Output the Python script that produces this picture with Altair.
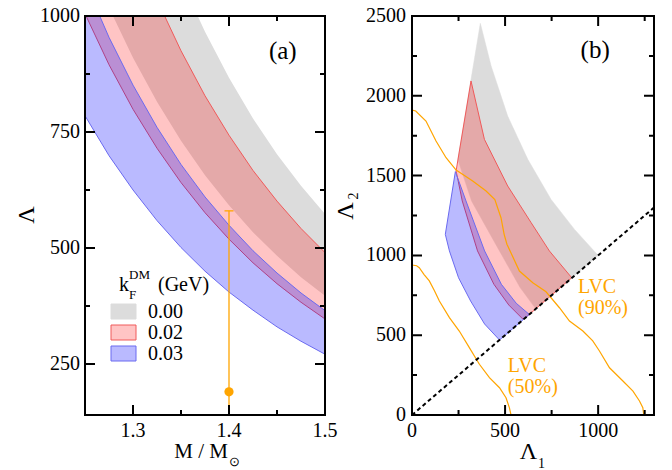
import altair as alt
import pandas as pd

FONT = "Liberation Serif"

# ---------------- panel (a): Lambda vs M/Msun ----------------
mass = [1.25, 1.275, 1.30, 1.325, 1.35, 1.375, 1.40, 1.425, 1.45, 1.475, 1.50]
gray_low = [1142, 1018, 910, 815, 731, 657, 592, 534, 483, 437, 397]
gray_high = [1711, 1519, 1352, 1206, 1078, 966, 867, 779, 702, 634, 573]
pink_low = [1005, 895, 799, 715, 641, 576, 519, 468, 423, 383, 347]
pink_high = [1471, 1305, 1161, 1035, 925, 828, 743, 667, 601, 542, 490]
blue_low = [785, 699, 625, 559, 501, 450, 405, 366, 330, 299, 271]
blue_high = [1073, 954, 851, 760, 680, 610, 549, 494, 446, 403, 365]

gw_mass = [1.4]
gw_lambda = [190]
gw_low = [70]
gw_high = [580]

kf_values = ["0.00", "0.02", "0.03"]
panel_a_label = ["(a)"]
panel_a_x = [1.456]
panel_a_y = [908]

a_x_dom = [1.25, 1.5]
a_y_dom = [140, 1000]
a_x_major = [1.3, 1.4, 1.5]
a_x_labels = ["1.3", "1.4", "1.5"]
a_x_minor = [1.35, 1.45]
a_y_major = [250, 500, 750, 1000]
a_y_labels = ["250", "500", "750", "1000"]
a_y_minor = [375, 625, 875]

# ---------------- panel (b): Lambda2 vs Lambda1 ----------------
gray_out_l1 = [367, 425, 514, 622, 747, 873, 1000]
gray_out_l2 = [2454, 2187, 1873, 1602, 1351, 1163, 1000]
gray_in_l1 = [246, 320, 470, 580, 665]
gray_in_l2 = [1602, 1341, 1028, 800, 665]

pink_out_l1 = [317, 389, 514, 640, 738, 858]
pink_out_l2 = [2093, 1727, 1435, 1205, 1028, 860]
pink_in_l1 = [237, 270, 352, 440, 520, 598]
pink_in_l2 = [1530, 1341, 1028, 819, 689, 598]

blue_out_l1 = [233, 290, 390, 480, 560, 630]
blue_out_l2 = [1525, 1341, 1028, 819, 700, 630]
blue_in_l1 = [179, 201, 250, 315, 390, 470]
blue_in_l2 = [1132, 1028, 860, 714, 570, 470]

lvc90_l1 = [0, 20, 75, 129, 183, 237, 326, 398, 445, 478, 495, 510, 532, 577, 649,
            720, 792, 846, 918, 971, 1007, 1061, 1133, 1187, 1222, 1240, 1245]
lvc90_l2 = [1910, 1905, 1842, 1717, 1612, 1535, 1466, 1403, 1350, 1236, 1132, 1070, 1015, 902, 829,
            772, 672, 589, 526, 464, 401, 296, 213, 150, 88, 46, 0]
lvc50_l1 = [0, 25, 39, 65, 93, 120, 147, 201, 254, 308, 362, 416, 470, 505, 523, 532]
lvc50_l2 = [940, 935, 923, 880, 840, 780, 714, 610, 526, 422, 318, 234, 171, 108, 46, 0]

diag_l = [0, 1300]

lvc_text = ["LVC", "(90%)", "LVC", "(50%)"]
lvc_text_l1 = [892, 892, 515, 515]
lvc_text_l2 = [764, 633, 269, 138]

panel_b_label = ["(b)"]
panel_b_x = [984]
panel_b_y = [2234]

b_x_dom = [0, 1300]
b_y_dom = [0, 2500]
b_x_major = [0, 500, 1000]
b_x_labels = ["0", "500", "1000"]
b_x_minor = [250, 750, 1250]
b_y_major = [0, 500, 1000, 1500, 2000, 2500]
b_y_labels = ["0", "500", "1000", "1500", "2000", "2500"]
b_y_minor = [250, 750, 1250, 1750, 2250]

# ---------------- styles ----------------
GRAY = "#dcdcdc"
RED = "#ff0000"
RED_LINE = "#f05a5a"
BLUE = "#0000ff"
BLUE_LINE = "#6a6af0"
ORANGE = "#ffa500"
RED_OP = 0.23
BLUE_OP = 0.27

W1, W2, H = 240, 242, 399
MAJOR, MINOR = 10, 5
CAP_PX = 4.5


def ptext(txt, x, y, size, **kw):
    color = kw.pop("color", "black")
    return alt.Chart(pd.DataFrame({"t": [txt]})).mark_text(
        font=FONT, fontSize=size, color=color, **kw
    ).encode(x=alt.value(x), y=alt.value(y), text="t:N")


def frame_ticks(xdom, ydom, x_major, x_minor, y_major, y_minor, width):
    """One polyline per frame side, running along the edge with an inward
    excursion at every tick value (tick length converted from px to data units)."""
    ly = lambda px: px * (ydom[1] - ydom[0]) / H
    lx = lambda px: px * (xdom[1] - xdom[0]) / width
    xt = sorted([(v, MAJOR) for v in x_major] + [(v, MINOR) for v in x_minor])
    yt = sorted([(v, MAJOR) for v in y_major] + [(v, MINOR) for v in y_minor])
    rows = []

    def add(side, pts):
        for i, (a, b) in enumerate(pts):
            rows.append({"side": side, "idx": i, "tx": a, "ty": b})

    for side, y0, sgn in (("bottom", ydom[0], 1), ("top", ydom[1], -1)):
        pts = [(xdom[0], y0)]
        for v, s in xt:
            pts += [(v, y0), (v, y0 + sgn * ly(s)), (v, y0)]
        pts.append((xdom[1], y0))
        add(side, pts)
    for side, x0, sgn in (("left", xdom[0], 1), ("right", xdom[1], -1)):
        pts = [(x0, ydom[0])]
        for v, s in yt:
            pts += [(x0, v), (x0 + sgn * lx(s), v), (x0, v)]
        pts.append((x0, ydom[1]))
        add(side, pts)
    return pd.DataFrame(rows)


def tick_layer(xs, ys, xdom, ydom, x_major, x_minor, y_major, y_minor, width):
    df = frame_ticks(xdom, ydom, x_major, x_minor, y_major, y_minor, width)
    return alt.Chart(df).mark_line(color="black", strokeWidth=2).encode(
        x=alt.X("tx:Q", scale=xs, axis=None),
        y=alt.Y("ty:Q", scale=ys, axis=None),
        order="idx:Q", detail="side:N")


def label_layers(xs, ys, x_vals, x_labs, y_vals, y_labs, ypad):
    dx = pd.DataFrame({"pos": x_vals, "lab": x_labs})
    dy = pd.DataFrame({"pos": y_vals, "lab": y_labs})
    style = dict(font=FONT, fontSize=20, color="black")
    return [
        alt.Chart(dx).mark_text(align="center", baseline="alphabetic", **style).encode(
            x=alt.X("pos:Q", scale=xs, axis=None), y=alt.value(H + 22), text="lab:N"),
        alt.Chart(dy).mark_text(align="right", baseline="middle", **style).encode(
            y=alt.Y("pos:Q", scale=ys, axis=None), x=alt.value(-ypad), text="lab:N"),
    ]


# ================= panel (a) =================
xa = alt.Scale(domain=a_x_dom, nice=False, zero=False)
ya = alt.Scale(domain=a_y_dom, nice=False, zero=False)

df_a = pd.DataFrame({"m": mass, "g_lo": gray_low, "g_hi": gray_high,
                     "p_lo": pink_low, "p_hi": pink_high,
                     "b_lo": blue_low, "b_hi": blue_high})

a_gray = alt.Chart(df_a).mark_area(color=GRAY, clip=True).encode(
    x=alt.X("m:Q", scale=xa, axis=None),
    y=alt.Y("g_lo:Q", scale=ya, axis=None),
    y2="g_hi:Q")
a_pink = alt.Chart(df_a).mark_area(fill=RED, fillOpacity=RED_OP, stroke=RED_LINE,
                                   strokeWidth=1, clip=True).encode(
    x=alt.X("m:Q", scale=xa, axis=None),
    y=alt.Y("p_lo:Q", scale=ya, axis=None),
    y2="p_hi:Q")
a_blue = alt.Chart(df_a).mark_area(fill=BLUE, fillOpacity=BLUE_OP, stroke=BLUE_LINE,
                                   strokeWidth=1, clip=True).encode(
    x=alt.X("m:Q", scale=xa, axis=None),
    y=alt.Y("b_lo:Q", scale=ya, axis=None),
    y2="b_hi:Q")

cap_half = CAP_PX * (a_x_dom[1] - a_x_dom[0]) / W1
df_gw = pd.DataFrame({"m": gw_mass, "lam": gw_lambda, "lo": gw_low, "hi": gw_high})
df_gw["c0"] = df_gw["m"] - cap_half
df_gw["c1"] = df_gw["m"] + cap_half
a_rule = alt.Chart(df_gw).mark_rule(color=ORANGE, strokeWidth=1.3, clip=True).encode(
    x=alt.X("m:Q", scale=xa, axis=None),
    y=alt.Y("lo:Q", scale=ya, axis=None),
    y2="hi:Q")
a_cap = alt.Chart(df_gw).mark_rule(color=ORANGE, strokeWidth=1.3).encode(
    x=alt.X("c0:Q", scale=xa, axis=None), x2="c1:Q",
    y=alt.Y("hi:Q", scale=ya, axis=None))
a_point = alt.Chart(df_gw).mark_circle(color=ORANGE, size=85, opacity=1).encode(
    x=alt.X("m:Q", scale=xa, axis=None),
    y=alt.Y("lam:Q", scale=ya, axis=None))

a_lab = alt.Chart(pd.DataFrame({"t": panel_a_label, "x": panel_a_x, "y": panel_a_y})).mark_text(
    font=FONT, fontSize=25, color="black", baseline="alphabetic").encode(
    x=alt.X("x:Q", scale=xa, axis=None), y=alt.Y("y:Q", scale=ya, axis=None), text="t:N")

swatch_fill = [GRAY, RED, BLUE]
swatch_op = [1.0, RED_OP, BLUE_OP]
swatch_stroke = [GRAY, RED_LINE, BLUE_LINE]
legend_layers = []
for i, lab in enumerate(kf_values):
    legend_layers.append(
        alt.Chart(pd.DataFrame({"t": [lab]})).mark_rect(
            fill=swatch_fill[i], fillOpacity=swatch_op[i], stroke=swatch_stroke[i],
            strokeWidth=1).encode(
            x=alt.value(26), x2=alt.value(51),
            y=alt.value(288 + 21 * i), y2=alt.value(303 + 21 * i)))
    legend_layers.append(ptext(lab, 63, 302 + 21 * i, 20, align="left", baseline="alphabetic"))

a_texts = [
    ptext("Λ", -51, 199, 24, angle=270, align="center", baseline="alphabetic"),
    ptext("M / M", 143, 442, 21, align="right", baseline="alphabetic"),
    ptext("⊙", 144, 446, 13, align="left", baseline="middle"),
    ptext("k", 34, 275, 20, align="left", baseline="alphabetic"),
    ptext("F", 44, 283, 13, align="left", baseline="alphabetic"),
    ptext("DM", 44, 263, 13, align="left", baseline="alphabetic"),
    ptext("(GeV)", 73, 275, 20, align="left", baseline="alphabetic"),
]

a_ticks = tick_layer(xa, ya, a_x_dom, a_y_dom, a_x_major, a_x_minor, a_y_major, a_y_minor, W1)
a_labels = label_layers(xa, ya, a_x_major, a_x_labels, a_y_major, a_y_labels, 5)

left = alt.layer(a_gray, a_pink, a_blue, a_rule, a_cap, a_point, a_lab,
                 *legend_layers, *a_texts, *a_labels, a_ticks).properties(width=W1, height=H)

# ================= panel (b) =================
xb = alt.Scale(domain=b_x_dom, nice=False, zero=False)
yb = alt.Scale(domain=b_y_dom, nice=False, zero=False)


def polygon(out_l1, out_l2, in_l1, in_l2):
    xs = list(out_l1) + list(reversed(in_l1))
    ys = list(out_l2) + list(reversed(in_l2))
    return pd.DataFrame({"l1": xs, "l2": ys, "idx": list(range(len(xs)))})


b_gray = alt.Chart(polygon(gray_out_l1, gray_out_l2, gray_in_l1, gray_in_l2)).mark_line(
    interpolate="linear-closed", fill=GRAY, fillOpacity=1, stroke=GRAY, strokeWidth=0.5,
    clip=True).encode(
    x=alt.X("l1:Q", scale=xb, axis=None),
    y=alt.Y("l2:Q", scale=yb, axis=None),
    order="idx:Q")
b_pink = alt.Chart(polygon(pink_out_l1, pink_out_l2, pink_in_l1, pink_in_l2)).mark_line(
    interpolate="linear-closed", fill=RED, fillOpacity=RED_OP, stroke=RED_LINE,
    strokeWidth=1, clip=True).encode(
    x=alt.X("l1:Q", scale=xb, axis=None),
    y=alt.Y("l2:Q", scale=yb, axis=None),
    order="idx:Q")
b_blue = alt.Chart(polygon(blue_out_l1, blue_out_l2, blue_in_l1, blue_in_l2)).mark_line(
    interpolate="linear-closed", fill=BLUE, fillOpacity=BLUE_OP, stroke=BLUE_LINE,
    strokeWidth=1, clip=True).encode(
    x=alt.X("l1:Q", scale=xb, axis=None),
    y=alt.Y("l2:Q", scale=yb, axis=None),
    order="idx:Q")

df_lvc = pd.concat([
    pd.DataFrame({"l1": lvc90_l1, "l2": lvc90_l2, "idx": range(len(lvc90_l1)), "c": "90"}),
    pd.DataFrame({"l1": lvc50_l1, "l2": lvc50_l2, "idx": range(len(lvc50_l1)), "c": "50"}),
])
b_lvc = alt.Chart(df_lvc).mark_line(color=ORANGE, strokeWidth=1.2, clip=True).encode(
    x=alt.X("l1:Q", scale=xb, axis=None),
    y=alt.Y("l2:Q", scale=yb, axis=None),
    order="idx:Q", detail="c:N")

df_diag = pd.DataFrame({"l1": diag_l, "l2": diag_l})
b_diag = alt.Chart(df_diag).mark_line(color="black", strokeDash=[4, 3], strokeWidth=2,
                                      clip=True).encode(
    x=alt.X("l1:Q", scale=xb, axis=None),
    y=alt.Y("l2:Q", scale=yb, axis=None))

b_lvc_text = alt.Chart(pd.DataFrame({"t": lvc_text, "x": lvc_text_l1, "y": lvc_text_l2})).mark_text(
    font=FONT, fontSize=20, color=ORANGE, align="left", baseline="alphabetic").encode(
    x=alt.X("x:Q", scale=xb, axis=None), y=alt.Y("y:Q", scale=yb, axis=None), text="t:N")

b_lab = alt.Chart(pd.DataFrame({"t": panel_b_label, "x": panel_b_x, "y": panel_b_y})).mark_text(
    font=FONT, fontSize=25, color="black", baseline="alphabetic").encode(
    x=alt.X("x:Q", scale=xb, axis=None), y=alt.Y("y:Q", scale=yb, axis=None), text="t:N")

b_texts = [
    ptext("Λ", -59, 195, 24, angle=270, align="center", baseline="alphabetic"),
    ptext("2", -54, 180, 14, angle=270, align="center", baseline="alphabetic"),
    ptext("Λ", 116.5, 443, 24, align="center", baseline="alphabetic"),
    ptext("1", 126, 452, 14, align="left", baseline="alphabetic"),
]

b_ticks = tick_layer(xb, yb, b_x_dom, b_y_dom, b_x_major, b_x_minor, b_y_major, b_y_minor, W2)
b_labels = label_layers(xb, yb, b_x_major, b_x_labels, b_y_major, b_y_labels, 6)

right = alt.layer(b_gray, b_pink, b_blue, b_lvc, b_diag, b_lvc_text, b_lab,
                  *b_texts, *b_labels, b_ticks).properties(width=W2, height=H)

chart = alt.hconcat(left, right, spacing=87, bounds="flush").properties(
    padding={"left": 14, "top": 5, "right": 5, "bottom": 5},
    background="white",
).configure_view(stroke="black", strokeWidth=2)

chart.save("out.html", embed_options={"renderer": "svg", "actions": False})
